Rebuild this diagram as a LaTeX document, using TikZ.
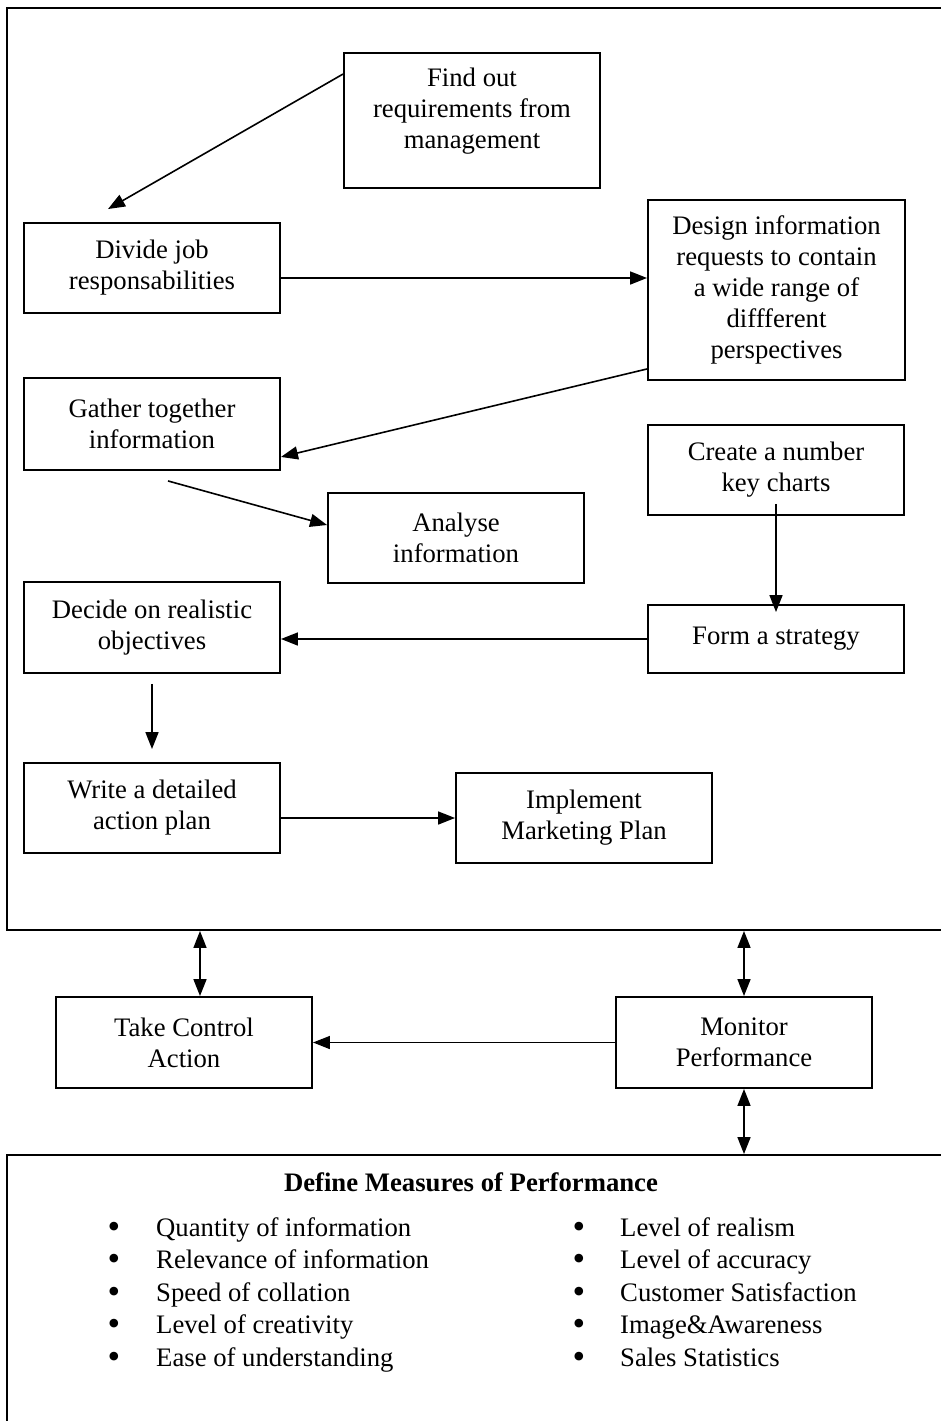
\documentclass[tikz,border=0pt]{standalone}
\usepackage{fontspec}
\setmainfont{Liberation Serif}
\usetikzlibrary{arrows.meta}
\tikzset{
  box/.style={draw, line width=1.9pt, rectangle, inner sep=0pt, align=center, minimum width=256pt},
  txt/.style={inner sep=0pt, align=center},
  con/.style={line width=1.6pt, -{Triangle[length=17pt,width=13pt]}},
  dcon/.style={line width=1.6pt, {Triangle[length=17pt,width=13pt]}-{Triangle[length=17pt,width=13pt]}},
  item/.style={inner sep=0pt, anchor=base west},
  bul/.style={inner sep=0pt, anchor=base, font=\fontsize{36pt}{36pt}\selectfont},
}
\begin{document}
\begin{tikzpicture}[x=1pt,y=-1pt,font=\fontsize{26.7pt}{31pt}\selectfont]
\useasboundingbox (0,0) rectangle (941,1421);
\fill[white] (0,0) rectangle (941,1421);
% frames
\node[draw, line width=1.9pt, inner sep=0pt, minimum width=943pt, minimum height=922pt] (frame) at (478.5,469) {};
\node[draw, line width=1.9pt, inner sep=0pt, minimum width=943pt, minimum height=275pt] (measures) at (478.5,1292.5) {};
% boxes
\node[box, minimum height=135pt] (find) at (472,120.5) {};
\node[txt] (findtxt) at (472,111) {Find out\\requirements from\\management};
\node[box, minimum height=90pt] (divide) at (152,268) {Divide job\\responsabilities};
\node[box, minimum width=257pt, minimum height=180pt] (design) at (776.5,290) {Design information\\requests to contain\\a wide range of\\diffferent\\perspectives};
\node[box, minimum height=92pt] (gather) at (152,424) {Gather together\\information};
\node[box, minimum height=90pt] (analyse) at (456,538) {Analyse\\information};
\node[box, minimum height=90pt] (create) at (776,470) {Create a number\\key charts};
\node[box, minimum height=91pt] (decide) at (152,627.5) {Decide on realistic\\objectives};
\node[box, minimum height=68pt] (form) at (776,639) {\raisebox{6pt}{Form a strategy}};
\node[box, minimum height=90pt] (write) at (152,808) {Write a detailed\\action plan};
\node[box, minimum height=90pt] (implement) at (584,818) {Implement\\Marketing Plan};
\node[box, minimum height=91pt] (take) at (184,1042.5) {Take Control\\Action};
\node[box, minimum height=91pt] (monitor) at (744,1042.5) {Monitor\\Performance};
% connectors
\draw[con] ([yshift=-22pt]find.north west) -- ([xshift=-44pt,yshift=13pt]divide.north);
\draw[con] ([yshift=-10pt]divide.east) -- ([yshift=-10pt]divide.east -| design.west);
\draw[con] ([yshift=12pt]design.south west) -- ([yshift=14pt]gather.south east);
\draw[con] ([xshift=16pt,yshift=-10pt]gather.south) -- ([yshift=13pt]analyse.west);
\draw[con] ([yshift=12pt]create.south) -- ([yshift=-8pt]form.north);
\draw[con] (form.west) -- (form.west -| decide.east);
\draw[con] ([yshift=-10pt]decide.south) -- ([yshift=13pt]write.north);
\draw[con] (implement.west -| write.east) -- (implement.west);
\draw[con] (monitor.west) -- (take.east);
\draw[dcon] ([xshift=16pt]take.north |- frame.south) -- ([xshift=16pt]take.north);
\draw[dcon] (monitor.north |- frame.south) -- (monitor.north);
\draw[dcon] (monitor.south) -- (monitor.south |- measures.north);
% measures list
\node[inner sep=0pt, anchor=base, font=\fontsize{26.7pt}{31pt}\selectfont\bfseries] (title) at (471,1191) {Define Measures of Performance};
\foreach \i/\t/\u [count=\n from 0] in {
  1/Quantity of information/Level of realism,
  2/Relevance of information/Level of accuracy,
  3/Speed of collation/Customer Satisfaction,
  4/Level of creativity/Image\&Awareness,
  5/Ease of understanding/Sales Statistics}{
  \pgfmathsetmacro{\yy}{1236+32.5*\n}
  \node[bul] (lb\i) at (114,\yy+2) {\textbullet};
  \node[item] (li\i) at (156,\yy) {\t};
  \node[bul] (rb\i) at (579,\yy+2) {\textbullet};
  \node[item] (ri\i) at (620,\yy) {\u};
}
\end{tikzpicture}
\end{document}
